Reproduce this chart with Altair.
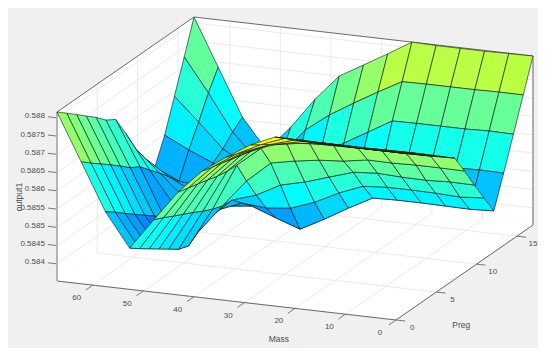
import altair as alt
import pandas as pd

MASS_MAX = 67.1
PREG_MAX = 17.0
Z_MIN = 0.58353
Z_MAX = 0.58816
N = 15

# output1 at each grid node, in units of 1e-5. Row = Preg step, column = Mass step.
p00 = [58816,58815,58815,58815,58816,58816,58787,58746,58700,58635,58551,58466,58558,58687,58816]
p01 = [58794,58793,58792,58793,58793,58794,58769,58736,58692,58627,58539,58446,58538,58665,58794]
p02 = [58773,58771,58770,58770,58771,58771,58751,58725,58685,58620,58524,58427,58516,58644,58772]
p03 = [58751,58749,58748,58748,58749,58749,58734,58715,58677,58612,58511,58408,58495,58623,58749]
p04 = [58729,58727,58726,58726,58727,58726,58716,58705,58670,58604,58497,58389,58474,58601,58727]
p05 = [58707,58705,58704,58704,58704,58704,58698,58694,58662,58599,58482,58370,58453,58578,58701]
p06 = [58685,58683,58682,58682,58682,58681,58680,58681,58651,58597,58469,58360,58432,58562,58684]
p07 = [58631,58632,58632,58630,58631,58620,58615,58605,58592,58535,58459,58380,58446,58534,58628]
p08 = [58574,58575,58572,58573,58576,58571,58550,58529,58513,58478,58457,58397,58449,58508,58568]
p09 = [58520,58515,58518,58519,58519,58514,58488,58455,58431,58424,58430,58403,58445,58478,58522]
p10 = [58466,58463,58464,58465,58465,58463,58428,58390,58355,58378,58403,58395,58442,58448,58479]
p11 = [58551,58552,58550,58550,58551,58535,58500,58465,58443,58436,58442,58462,58487,58515,58548]
p12 = [58639,58640,58638,58638,58638,58637,58599,58561,58521,58472,58464,58470,58507,58573,58636]
p13 = [58728,58728,58727,58727,58727,58726,58690,58652,58612,58563,58487,58465,58535,58634,58725]
p14 = [58816,58815,58814,58814,58814,58816,58776,58738,58700,58629,58545,58474,58557,58686,58816]
rows = [p00,p01,p02,p03,p04,p05,p06,p07,p08,p09,p10,p11,p12,p13,p14]

z_ticks = [0.584,0.5845,0.585,0.5855,0.586,0.5865,0.587,0.5875,0.588]
z_labels = ["0.584","0.5845","0.585","0.5855","0.586","0.5865","0.587","0.5875","0.588"]
mass_ticks = [0,10,20,30,40,50,60]
preg_ticks = [0,5,10,15]

# Orthographic view of the axes box, fixed by the reference's camera
ORIGIN = (396.0, 320.0)
MASS_VEC = (-339.0, -39.0)
PREG_VEC = (137.0, -95.0)
Z_SPAN = -169.0


def project(m, p, z):
    a, b, c = m / MASS_MAX, p / PREG_MAX, (z - Z_MIN) / (Z_MAX - Z_MIN)
    return [ORIGIN[0] + a * MASS_VEC[0] + b * PREG_VEC[0],
            ORIGIN[1] + a * MASS_VEC[1] + b * PREG_VEC[1] + c * Z_SPAN]


def line(*pts):
    return {"type": "Feature", "properties": {},
            "geometry": {"type": "LineString", "coordinates": [project(*q) for q in pts]}}


def poly(pts, **props):
    ring = [project(*q) for q in pts]
    ring.append(ring[0])
    return {"type": "Feature", "properties": props,
            "geometry": {"type": "Polygon", "coordinates": [ring]}}


M, P = MASS_MAX, PREG_MAX
PROJ = dict(type="identity", scale=1, translate=[-8, -8])


def shapes(features, **mark):
    return alt.Chart(alt.Data(values=features)).mark_geoshape(**mark).project(**PROJ)


# white box faces
faces = [poly([(M,0,Z_MAX),(M,P,Z_MAX),(M,P,Z_MIN),(M,0,Z_MIN)]),
         poly([(M,P,Z_MAX),(0,P,Z_MAX),(0,P,Z_MIN),(M,P,Z_MIN)]),
         poly([(M,0,Z_MIN),(M,P,Z_MIN),(0,P,Z_MIN),(0,0,Z_MIN)])]

grid = []
for m in mass_ticks:
    grid.append(line((m,0,Z_MIN),(m,P,Z_MIN)))
    grid.append(line((m,P,Z_MIN),(m,P,Z_MAX)))
for p in preg_ticks:
    grid.append(line((0,p,Z_MIN),(M,p,Z_MIN)))
    grid.append(line((M,p,Z_MIN),(M,p,Z_MAX)))
for z in z_ticks:
    grid.append(line((M,0,z),(M,P,z)))
    grid.append(line((M,P,z),(0,P,z)))

outline = [line((M,0,Z_MIN),(0,0,Z_MIN),(0,P,Z_MIN)),
           line((M,0,Z_MAX),(M,P,Z_MAX),(0,P,Z_MAX),(0,P,Z_MIN))]
ticks = []
for m in mass_ticks:
    ticks.append(line((m,0,Z_MIN),(m,-0.87,Z_MIN)))
for p in preg_ticks:
    ticks.append(line((0,p,Z_MIN),(-1.8,p,Z_MIN)))
for z in z_ticks:
    ticks.append(line((M,0,z),(M+1.8,0,z)))
z_axis = [line((M,0,Z_MIN),(M,0,Z_MAX))]

# surface cells: far cells first; each flat cell takes the colour of its lowest-index node
cells = []
for i in range(N - 1):
    for j in range(N - 1):
        pi, pi2 = i * P / (N - 1), (i + 1) * P / (N - 1)
        mj, mj2 = j * M / (N - 1), (j + 1) * M / (N - 1)
        zz = lambda a, b: rows[a][b] * 1e-5
        cell = poly([(mj,pi,zz(i,j)),(mj,pi2,zz(i+1,j)),(mj2,pi2,zz(i+1,j+1)),(mj2,pi,zz(i,j+1))],
                    z=zz(i, j))
        cells.append(((j + 0.5) / 14 + 2.474 * (i + 0.5) / 14, cell))
cells.sort(key=lambda t: -t[0])
cells = [c for _, c in cells]

surface = shapes(cells, stroke="#101010", strokeWidth=0.75, strokeOpacity=0.8).encode(
    color=alt.Color("properties.z:Q", legend=None,
                    scale=alt.Scale(domain=[0.5826, 0.5853, 0.5880],
                                    range=["#0000ff", "#00ffff", "#ffff00"],
                                    interpolate="rgb", clamp=True)))

tick_text, tick_lon, tick_lat = [], [], []
for m in mass_ticks:
    q = project(m, -2.0, Z_MIN - 0.00005)
    tick_text.append(str(m)); tick_lon.append(q[0]); tick_lat.append(q[1])
for p in preg_ticks:
    q = project(-3.2, p, Z_MIN - 0.00017)
    tick_text.append(str(p)); tick_lon.append(q[0]); tick_lat.append(q[1])
center_df = pd.DataFrame({"t": tick_text, "lon": tick_lon, "lat": tick_lat})
zq = [project(M + 2.4, 0, z) for z in z_ticks]
z_df = pd.DataFrame({"t": z_labels, "lon": [q[0] for q in zq], "lat": [q[1] for q in zq]})
title_pts = [("Mass", (15.2, -5, Z_MIN)), ("Preg", (-12.3, 0.38, Z_MIN))]
title_df = pd.DataFrame({"t": [t for t, _ in title_pts],
                         "lon": [project(*q)[0] for _, q in title_pts],
                         "lat": [project(*q)[1] for _, q in title_pts]})
ylab = project(M + 7.5, 0, 0.58571)
ylab_df = pd.DataFrame({"t": ["output1"], "lon": [ylab[0]], "lat": [ylab[1]]})

FONT = dict(font="Liberation Sans", color="#4d4d4d", baseline="middle")


def text(df, **mark):
    return alt.Chart(df).mark_text(**FONT, **mark).encode(
        longitude="lon:Q", latitude="lat:Q", text="t:N").project(**PROJ)


chart = alt.layer(
    shapes(faces, fill="#ffffff", stroke=None),
    shapes(grid, filled=False, stroke="#e4e4e4", strokeWidth=0.8),
    shapes(outline, filled=False, stroke="#6a6a6a", strokeWidth=1),
    shapes(ticks, filled=False, stroke="#6a6a6a", strokeWidth=0.9),
    shapes(z_axis, filled=False, stroke="#b4b4b4", strokeWidth=2),
    surface,
    text(center_df, fontSize=8, align="center"),
    text(z_df, fontSize=8, align="right"),
    text(title_df, fontSize=8.5, align="center"),
    text(ylab_df, fontSize=8.5, align="center", angle=270),
).properties(width=530, height=340, padding=0, background="#f0f0f0",
             autosize=alt.AutoSizeParams(type="none")
).configure_view(stroke=None)

chart.save("out.html", embed_options={"renderer": "svg", "actions": False})
